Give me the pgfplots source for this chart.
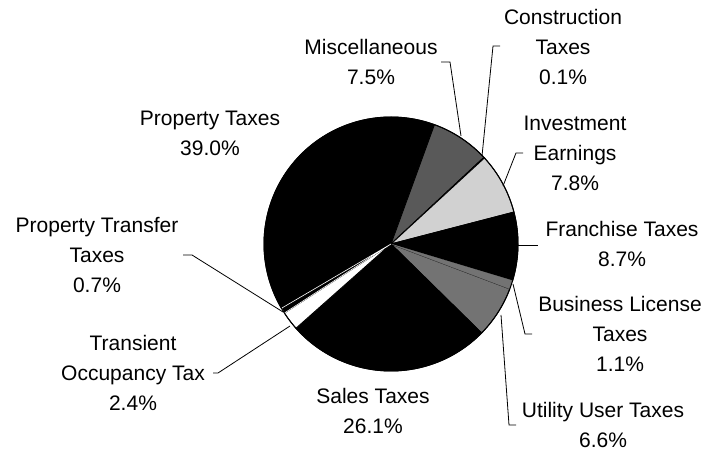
\documentclass[border=0pt]{standalone}
\usepackage{pgfplots}
\pgfplotsset{compat=1.18}
\usepackage{fontspec}
\setmainfont{Liberation Sans}
\tikzset{lbl/.style={font=\fontsize{21}{30}\selectfont, align=center, text=black, inner sep=0pt}}
% slice: [options]{cumulative start %}{value %}{fill}
\newcommand\slice[4][]{%
  \pgfmathsetmacro\sa{20+3.6*#2}%
  \pgfmathsetmacro\sb{20+3.6*(#2+#3)}%
  \edef\temp{\noexpand\addplot[fill=#4, draw=black, line width=0.9pt, domain=\sa:\sb, samples=60, #1]
    ({391+127*sin(x)},{208+127*cos(x)}) -- (axis cs:391,208) -- cycle;}%
  \temp}
\begin{document}
\begin{tikzpicture}
\useasboundingbox (0,0) rectangle (706pt,452pt);
\begin{axis}[at={(0,0)}, anchor=south west, width=706pt, height=452pt, scale only axis,
  xmin=0, xmax=706, ymin=0, ymax=452, hide axis, clip=false]
% Miscellaneous 7.5, Construction 0.1, Investment 7.8, Franchise 8.7, Business License 1.1,
% Utility User 6.6, Sales 26.1, Transient Occupancy 2.4, Property Transfer 0.7, Property 39.0
\slice{61.0}{39.0}{black}
\slice{0}{7.5}{black!65}
\slice{7.5}{0.1}{black}
\slice{7.6}{7.8}{black!18}
\slice{15.4}{8.7}{black}
\slice{25.2}{6.6}{black!55}
\slice[draw=black!55, line width=0.3pt]{24.1}{1.1}{black!55}
\slice{31.8}{26.1}{black}
\slice{57.9}{2.4}{white}
\slice[draw=white, line width=0.6pt]{60.3}{0.7}{black}
% outer rim of the pie
\addplot[draw=black, line width=1pt, domain=0:360, samples=240] ({391+127*sin(x)},{208+127*cos(x)});
% leader lines
\draw[line width=0.8pt] (axis cs:441,390) -- (axis cs:450,390) -- (axis cs:461,316);
\draw[line width=0.8pt] (axis cs:500,406) -- (axis cs:493,406) -- (axis cs:482,296);
\draw[line width=0.8pt] (axis cs:523,299) -- (axis cs:516,299) -- (axis cs:503,266);
\draw[line width=0.8pt] (axis cs:518,207) -- (axis cs:538,207);
\draw[line width=0.8pt] (axis cs:532,118) -- (axis cs:525,118) -- (axis cs:513,168);
\draw[line width=0.8pt] (axis cs:516,27) -- (axis cs:509,27) -- (axis cs:501,137);
\draw[line width=0.8pt] (axis cs:213,79) -- (axis cs:218,79) -- (axis cs:290,126);
\draw[line width=0.8pt] (axis cs:183,197) -- (axis cs:192,197) -- (axis cs:283,140);
% labels
\node[lbl] at (axis cs:210,319) {Property Taxes\\39.0\%};
\node[lbl] at (axis cs:371,390) {Miscellaneous\\7.5\%};
\node[lbl] at (axis cs:563,405) {Construction\\Taxes\\0.1\%};
\node[lbl] at (axis cs:575,299) {Investment\\Earnings\\7.8\%};
\node[lbl] at (axis cs:622,208) {Franchise Taxes\\8.7\%};
\node[lbl] at (axis cs:620,118) {Business License\\Taxes\\1.1\%};
\node[lbl] at (axis cs:603,27) {Utility User Taxes\\6.6\%};
\node[lbl] at (axis cs:373,41) {Sales Taxes\\26.1\%};
\node[lbl] at (axis cs:133,79) {Transient\\Occupancy Tax\\2.4\%};
\node[lbl] at (axis cs:97,197) {Property Transfer\\Taxes\\0.7\%};
\end{axis}
\end{tikzpicture}
\end{document}
